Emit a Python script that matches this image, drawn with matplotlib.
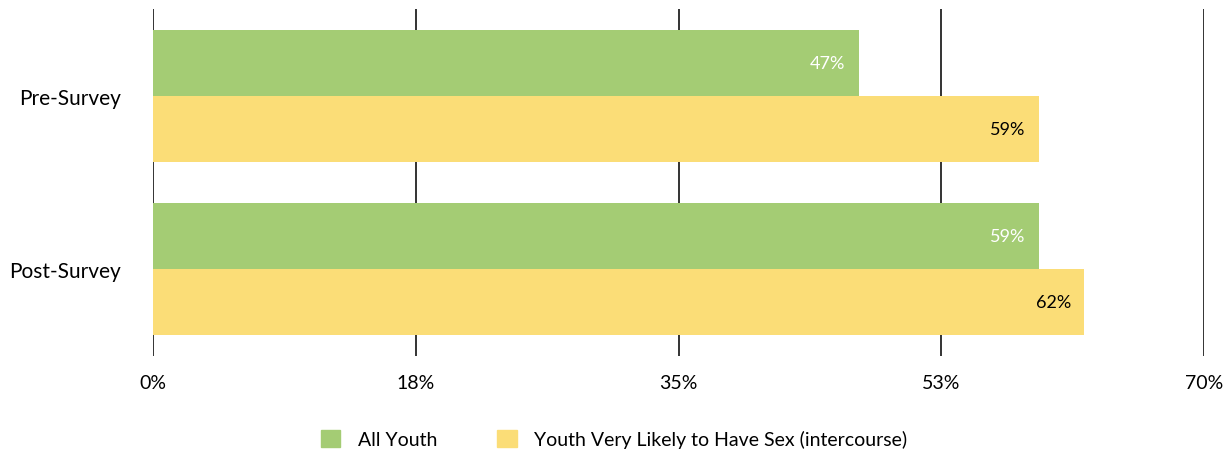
import numpy as np
import matplotlib.pyplot as plt
from matplotlib.patches import Patch

plt.rcParams['font.family'] = ['Lato', 'DejaVu Sans']

# chart data
categories = ['Pre-Survey', 'Post-Survey']
all_youth = [47, 59]
likely_sex = [59, 62]
series_names = ['All Youth', 'Youth Very Likely to Have Sex (intercourse)']
tick_vals = [0, 17.5, 35, 52.5, 70]
tick_labels = ['0%', '18%', '35%', '53%', '70%']

green = '#a4cc74'
yellow = '#fbdd77'

fig = plt.figure(figsize=(12.28, 4.52), dpi=100)
ax = fig.add_axes([153 / 1228, 1 - 357 / 452, 1051 / 1228, 347 / 452])

y = np.arange(len(categories))
h = 0.384
ax.barh(y - h / 2, all_youth, height=h, color=green, zorder=2)
ax.barh(y + h / 2, likely_sex, height=h, color=yellow, zorder=2)

# value labels just inside the bar ends
for i in range(len(categories)):
    ax.text(all_youth[i] - 0.87, y[i] - h / 2, f'{all_youth[i]}%', ha='right', va='center',
            color='white', fontsize=13, zorder=3)
    ax.text(likely_sex[i] - 0.87, y[i] + h / 2, f'{likely_sex[i]}%', ha='right', va='center',
            color='black', fontsize=13, zorder=3)

ax.set_xlim(0, 70)
ax.set_ylim(1.505, -0.505)
ax.set_xticks(tick_vals)
ax.set_xticklabels(tick_labels, fontsize=14)
ax.set_yticks(y)
ax.set_yticklabels(categories, fontsize=15)
ax.tick_params(axis='both', length=0)
ax.tick_params(axis='x', pad=13)
ax.tick_params(axis='y', pad=23)
ax.grid(axis='x', color='#333333', linewidth=1.4, zorder=1)
ax.set_axisbelow(True)
for s in ['top', 'right', 'bottom', 'left']:
    ax.spines[s].set_visible(False)

handles = [Patch(color=green), Patch(color=yellow)]
fig.legend(handles, series_names, loc='center', bbox_to_anchor=(0.5, 1 - 440 / 452),
           ncol=2, frameon=False, fontsize=14, handlelength=1.0, handleheight=1.0,
           columnspacing=3.1, handletextpad=0.9)

fig.savefig('out.png', dpi=100)
